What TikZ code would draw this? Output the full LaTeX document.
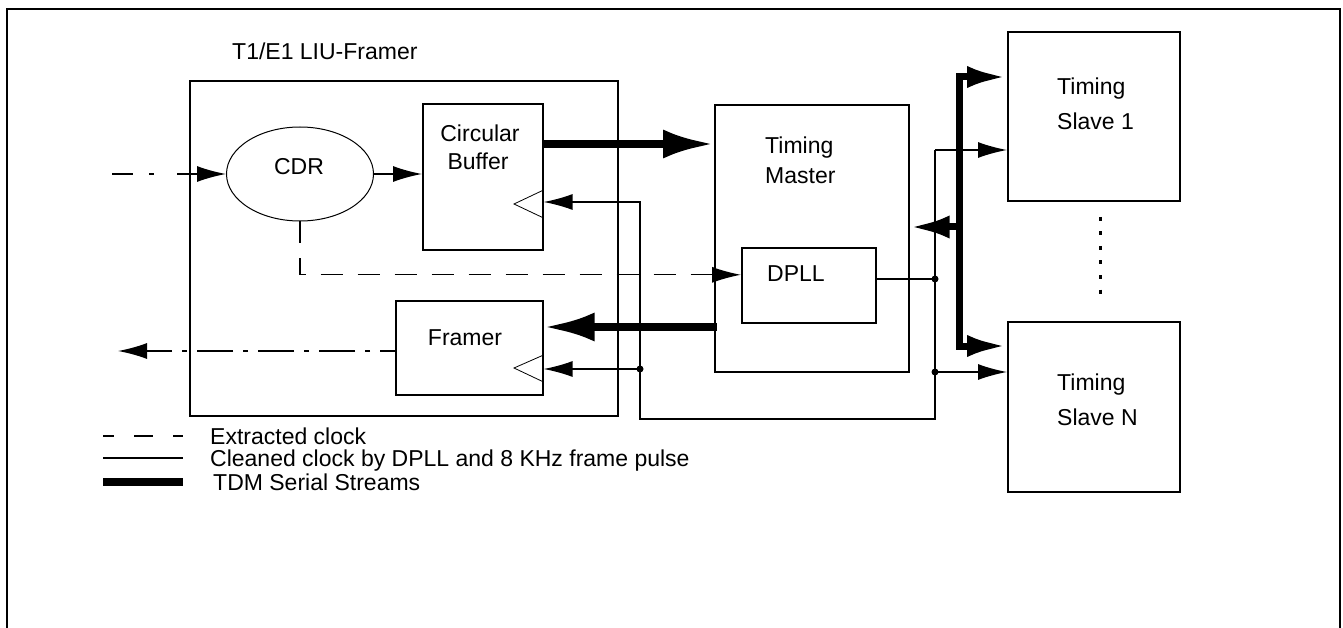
\documentclass[tikz,border=0pt]{standalone}
\usepackage{fontspec}
\setmainfont{Liberation Sans}
\usetikzlibrary{arrows.meta,shapes.geometric,calc}
\begin{document}
\begin{tikzpicture}[x=1pt,y=-1pt,
  box/.style={draw,line width=1.6pt,rectangle,inner sep=0pt,anchor=north west},
  wire/.style={line width=1.3pt},
  tdm/.style={line width=8pt},
  lbl/.style={font=\fontsize{23pt}{28pt}\selectfont,inner sep=0pt,anchor=base west},
  clbl/.style={font=\fontsize{23pt}{28pt}\selectfont,inner sep=0pt,anchor=base},
  tip/.style={-{Latex[length=29pt,width=16pt]}},
  bigtip/.style={-{Latex[length=51pt,width=29pt]}},
  midtip/.style={-{Latex[length=40pt,width=23pt]}},
  jdot/.style={circle,fill,inner sep=0pt,minimum size=7pt},
  clk/.style={line width=0.8pt}
]
\useasboundingbox (0,0) rectangle (1343,628);
% outer frame (open at bottom)
\draw[line width=2pt] (7,628) -- (7,9) -- (1340,9) -- (1340,628);

% boxes
\node[box,minimum width=428pt,minimum height=335pt] (liu) at (189,80) {};
\node[lbl] (liulbl) at (232,60) {T1/E1 LIU-Framer};
\node[draw,ellipse,line width=1pt,minimum width=147pt,minimum height=94pt,inner sep=0pt] (cdr) at (300,174) {};
\node[clbl] (cdrlbl) at (299,175) {CDR};
\node[box,minimum width=120pt,minimum height=146pt] (buf) at (422,103) {};
\node[clbl] (buft1) at (480,142) {Circular};
\node[clbl] (buft2) at (478,170) {Buffer};
\node[box,minimum width=147pt,minimum height=94pt] (framer) at (395,300) {};
\node[clbl] (framert) at (465,345) {Framer};
\node[box,minimum width=194pt,minimum height=267pt] (master) at (714,104) {};
\node[lbl] (mt1) at (765,154) {Timing};
\node[lbl] (mt2) at (765,184) {Master};
\node[box,minimum width=134pt,minimum height=75pt] (dpll) at (741,247) {};
\node[lbl] (dpllt) at (767,281) {DPLL};
\node[box,minimum width=172pt,minimum height=169pt] (slave1) at (1007,31) {};
\node[lbl] (s1t1) at (1057,95) {Timing};
\node[lbl] (s1t2) at (1057,130) {Slave 1};
\node[box,minimum width=172pt,minimum height=170pt] (slaveN) at (1007,321) {};
\node[lbl] (sNt1) at (1057,390) {Timing};
\node[lbl] (sNt2) at (1057,425) {Slave N};

% clock input triangles
\draw[clk] (buf.east |- 0,190) -- (514,204) -- (buf.east |- 0,218);
\draw[clk] (framer.east |- 0,355) -- (514,368) -- (framer.east |- 0,382);

% coordinates
\coordinate (inS) at (112,174);
\coordinate (outE) at (118,351);
\coordinate (c1) at (935,150);
\coordinate (cb) at (935,419);
\coordinate (ca) at (640,202);
\coordinate (j1) at (935,279);
\coordinate (j2) at (640,369);
\coordinate (j3) at (935,372);
\coordinate (bus1) at (959,77);
\coordinate (bus2) at (959,346);
\coordinate (busm) at (959,227);

% line input / output
\draw[wire,tip,dash pattern=on 21pt off 16pt on 5pt off 23pt] (inS) -- (cdr.west);
\draw[wire,tip,dash pattern=on 36pt off 10pt on 5pt off 10pt,dash phase=21pt] (framer.west |- outE) -- (outE);
\draw[wire,tip] (cdr.east) -- (buf.west |- cdr.east);

% extracted clock
\draw[wire,tip,dash pattern=on 22pt off 15pt] (cdr.south) |- ([yshift=10.5pt]dpll.west);

% TDM streams
\draw[tdm,bigtip] (buf.east |- 0,144) -- (master.west |- 0,144);
\draw[tdm,bigtip] ([xshift=3pt]master.west |- 0,327) -- (framer.east |- 0,327);
\draw[line width=7pt,{Latex[length=40pt,width=22pt]}-{Latex[length=40pt,width=22pt]}] (slave1.west |- bus1) -- (bus1) -- (bus2) -- (slaveN.west |- bus2);
\draw[line width=7pt,midtip] (busm) -- (master.east |- busm);

% cleaned clock
\draw[wire] (dpll.east |- j1) -- (j1);
\draw[wire,tip] (c1) -- (slave1.west |- c1);
\draw[wire,tip] (c1) -- (cb) -| (ca) -- (buf.east |- ca);
\draw[wire,tip] (j2) -- (framer.east |- j2);
\draw[wire,tip] (j3) -- (slaveN.west |- j3);
\node[jdot] (d1) at (j1) {};
\node[jdot] (d2) at (j2) {};
\node[jdot] (d3) at (j3) {};

% dots between slaves
\draw[line width=3pt,dash pattern=on 4pt off 10.5pt] (1100,217) -- (1100,294);

% legend
\coordinate (l1a) at (103,436);
\coordinate (l1b) at (183,436);
\coordinate (l2a) at (103,458);
\coordinate (l2b) at (183,458);
\coordinate (l3a) at (103,482);
\coordinate (l3b) at (183,482);
\draw[wire,dash pattern=on 19pt off 20pt,dash phase=8pt] (l1a) -- (l1b);
\draw[wire] (l2a) -- (l2b);
\draw[line width=8pt] (l3a) -- (l3b);
\node[lbl] (lg1) at (210,444) {Extracted clock};
\node[lbl] (lg2) at (210,466) {Cleaned clock by DPLL and 8 KHz frame pulse};
\node[lbl] (lg3) at (213,490) {TDM Serial Streams};
\end{tikzpicture}
\end{document}
